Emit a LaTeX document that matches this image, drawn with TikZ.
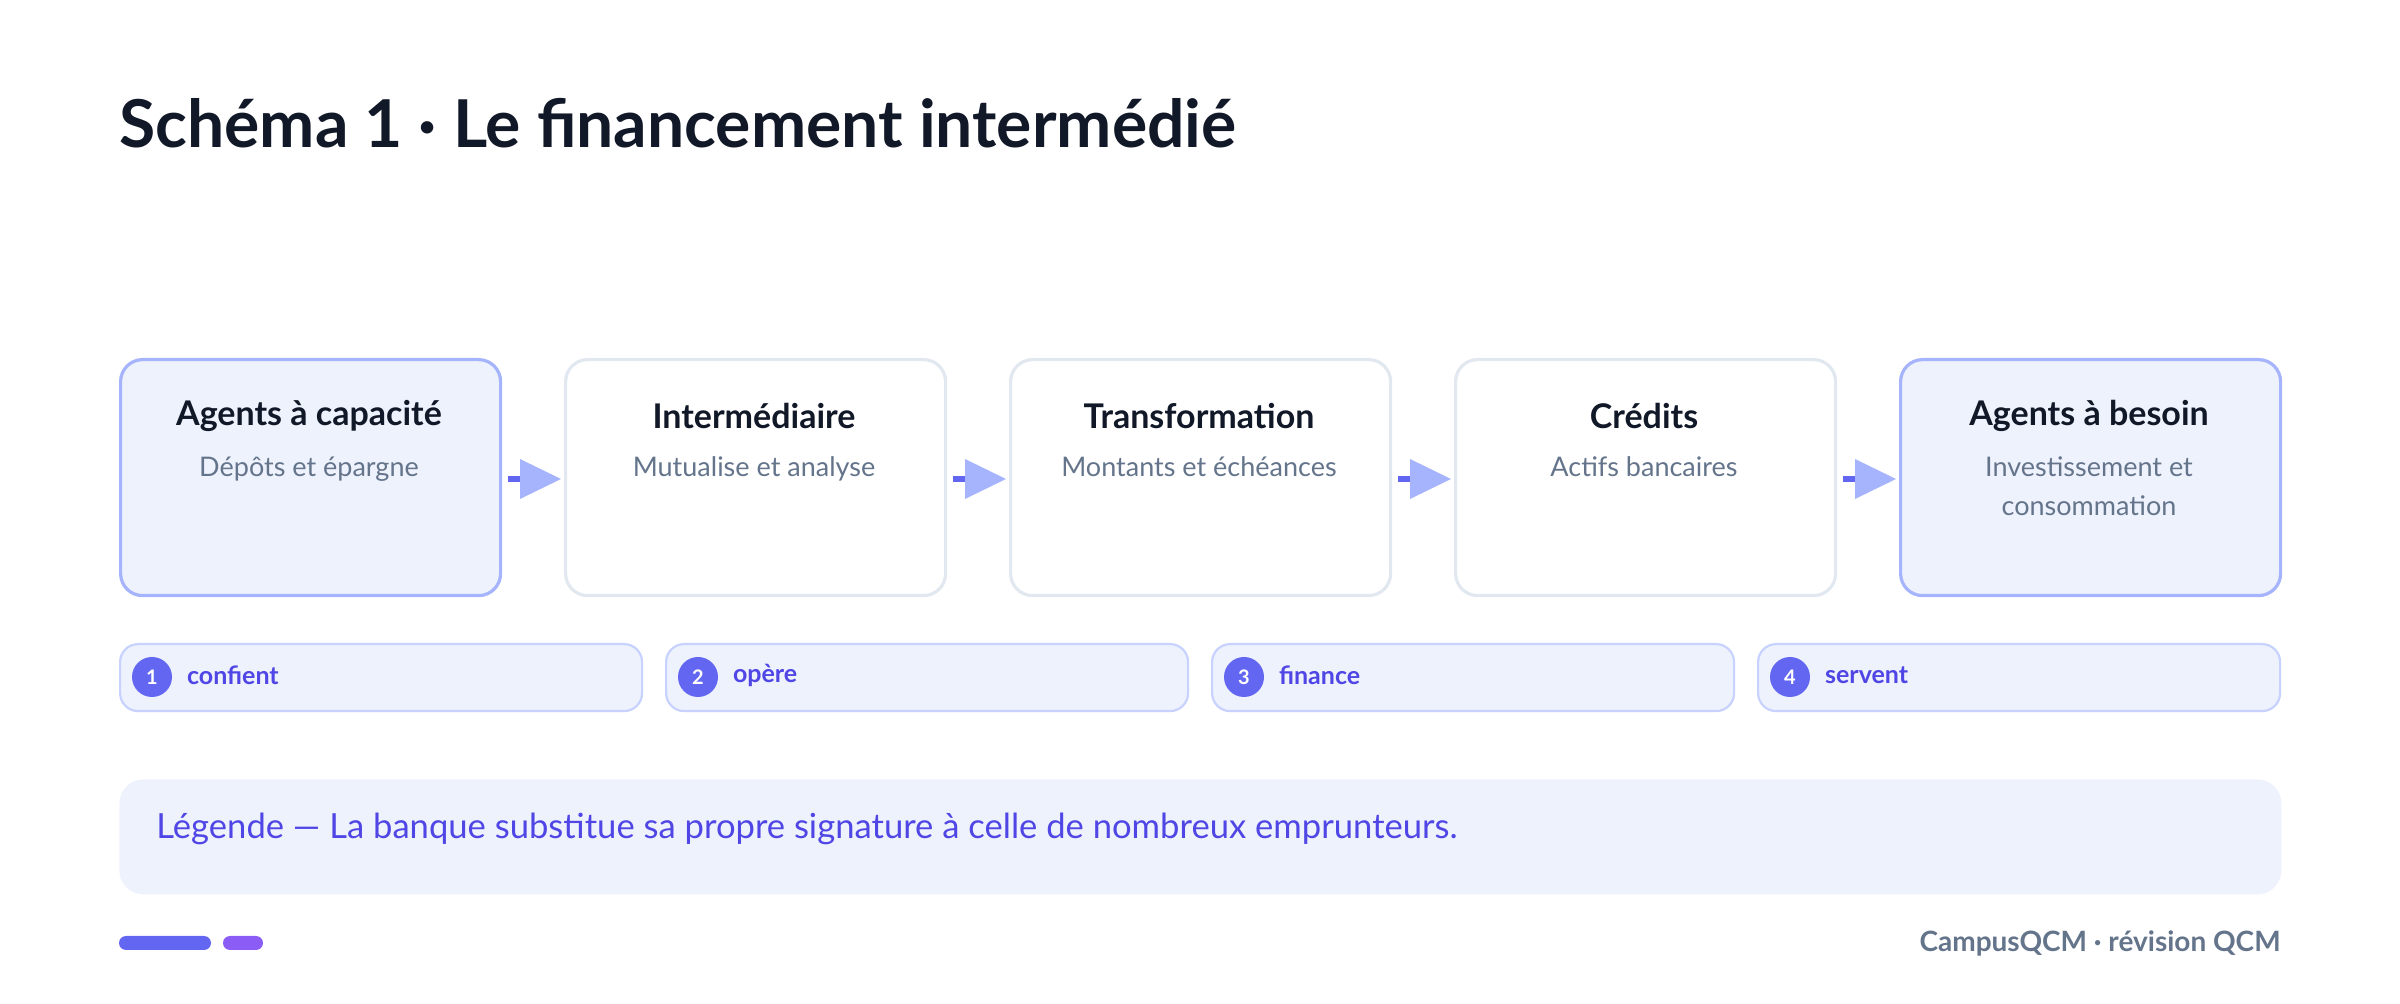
\documentclass[tikz,border=0pt]{standalone}
\usepackage{fontspec}
\setmainfont{Lato}
\begin{document}
\definecolor{ink}{HTML}{111827}
\definecolor{sub}{HTML}{64748B}
\definecolor{acc}{HTML}{4F46E5}
\definecolor{accfill}{HTML}{EEF2FD}
\definecolor{accline}{HTML}{A5B4FC}
\definecolor{grayline}{HTML}{E2E8F0}
\definecolor{pillline}{HTML}{C7D2FE}
\definecolor{dot}{HTML}{6366F1}
\definecolor{vio}{HTML}{8B5CF6}
\begin{tikzpicture}[x=0.5pt,y=-0.5pt,
  box/.style={draw=grayline,line width=1.6pt,fill=white,rounded corners=11pt,minimum width=190pt,minimum height=118pt,anchor=north west},
  hbox/.style={box,draw=accline,fill=accfill},
  ttl/.style={font=\fontsize{17}{19}\selectfont\bfseries,text=ink},
  st/.style={font=\fontsize{13.5}{19.5}\selectfont,text=sub,align=center},
  pill/.style={draw=pillline,line width=1.1pt,fill=accfill,rounded corners=9pt,minimum width=261pt,minimum height=33.5pt,anchor=north west},
  num/.style={circle,fill=dot,minimum size=20pt,inner sep=0pt,text=white,font=\fontsize{10}{10}\selectfont\bfseries},
  ptx/.style={font=\fontsize{12.5}{13}\selectfont\bfseries,text=acc,anchor=west}]
\useasboundingbox (0,0) rectangle (2400,1004);
\node[anchor=base west,font=\fontsize{33}{36}\selectfont\bfseries,text=ink,inner sep=0pt] (title) at (119,148) {Schéma 1 · Le financement intermédié};
\foreach \i/\s/\t/\u in {0/hbox/Agents à capacité/Dépôts et épargne,1/box/Intermédiaire/Mutualise et analyse,2/box/Transformation/Montants et échéances,3/box/Crédits/Actifs bancaires,4/hbox/Agents à besoin/Investissement et\\consommation}{
  \node[\s] (b\i) at (119+445*\i,358) {};
  \node[ttl] (t\i) at (309+445*\i,416) {\t};
  \node[st,anchor=north] (s\i) at (309+445*\i,450) {\u};
}
\foreach \i in {0,1,2,3}{
  \coordinate (a\i) at (508+445*\i,479);
  \fill[dot] (a\i) ++(0,-3) rectangle ++(14,6);
  \fill[accline] (520+445*\i,459) -- (561+445*\i,479) -- (520+445*\i,499) -- cycle;
}
\foreach \i/\w in {0/confient,1/opère,2/finance,3/servent}{
  \pgfmathtruncatemacro\n{\i+1}
  \node[pill] (p\i) at (119+546*\i,643) {};
  \node[num] (n\i) at (152+546*\i,677) {\n};
  \node[ptx] (w\i) at (180+546*\i,675) {\w};
}
\node[fill=accfill,rounded corners=12pt,minimum width=1081pt,minimum height=57.5pt,anchor=north west] (leg) at (119,779) {};
\node[anchor=west,font=\fontsize{17.3}{19}\selectfont,text=acc,inner sep=0pt] (legt) at (156,829) {Légende — La banque substitue sa propre signature à celle de nombreux emprunteurs.};
\fill[dot,rounded corners=3.5pt] (119,936) rectangle (211,950);
\fill[vio,rounded corners=3.5pt] (223,936) rectangle (263,950);
\node[anchor=east,font=\fontsize{14}{15}\selectfont\bfseries,text=sub,inner sep=0pt] (foot) at (2281,943) {CampusQCM · révision QCM};
\end{tikzpicture}
\end{document}
